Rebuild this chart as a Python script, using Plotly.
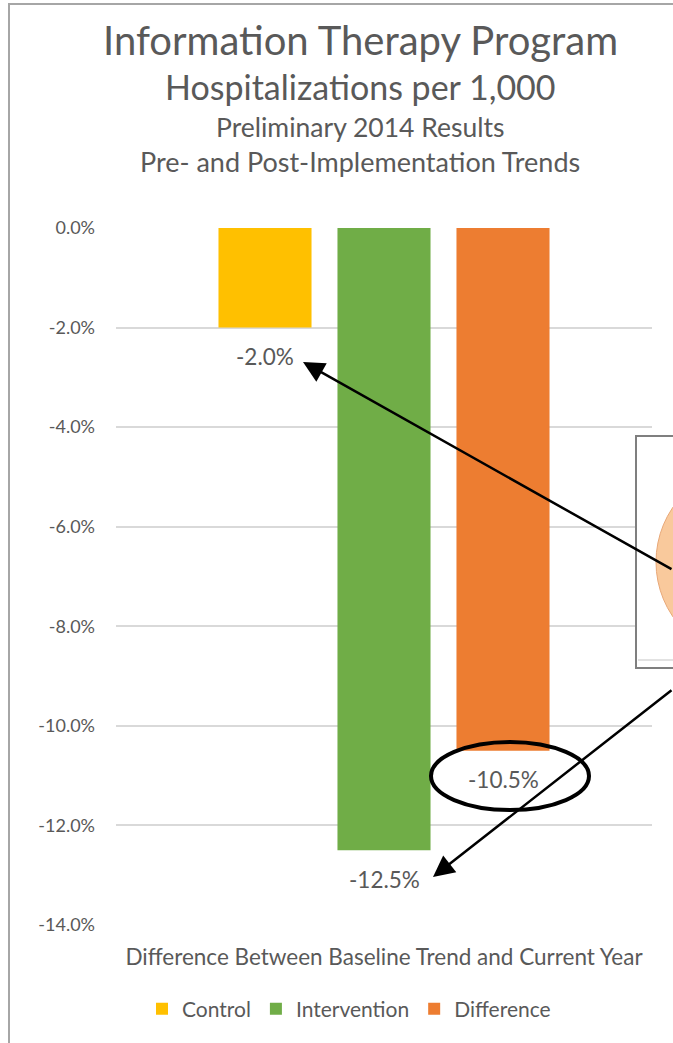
import plotly.graph_objects as go

# ---- data ----
category = ["Difference Between Baseline Trend and Current Year"]
series_names = ["Control", "Intervention", "Difference"]
series_values = [-0.020, -0.125, -0.105]
series_colors = ["#FFC000", "#70AD47", "#ED7D31"]
y_tick_values = [0.0, -0.02, -0.04, -0.06, -0.08, -0.10, -0.12, -0.14]
y_tick_labels = ["0.0%", "-2.0%", "-4.0%", "-6.0%", "-8.0%",
                 "-10.0%", "-12.0%", "-14.0%"]

title_lines = [
    ("Information Therapy Program", 40),
    ("Hospitalizations per 1,000", 34),
    ("Preliminary 2014 Results", 26.5),
    ("Pre- and Post-Implementation Trends", 27),
]

# ---- canvas geometry (pixels) ----
W, H = 673, 1043
L, R, T, B = 116, 652, 228, 925
FONT = "Lato"
GREY_TXT = "#595959"


def px(x):
    return (x - L) / (R - L)


def py(y):
    return (B - y) / (B - T)


fig = go.Figure()
for name, val, col in zip(series_names, series_values, series_colors):
    fig.add_trace(go.Bar(
        x=category, y=[val], name=name, marker_color=col,
        marker_line_width=0,
    ))

# value labels under each bar end (hyphen minus, one decimal)
slot = 119
for i, val in enumerate(series_values):
    fig.add_annotation(
        x=category[0], y=val, xref="x", yref="y",
        xshift=(i - 1) * slot, yshift=-29,
        text=f"{val * 100:.1f}%", showarrow=False,
        font=dict(family=FONT, size=22.5, color=GREY_TXT),
    )

# titles
title_y = [40, 87, 127, 162]
for (txt, size), yy in zip(title_lines, title_y):
    fig.add_annotation(
        x=px(360), y=py(yy), xref="paper", yref="paper",
        text=txt, showarrow=False, xanchor="center", yanchor="middle",
        font=dict(family=FONT, size=size, color=GREY_TXT),
    )

shapes = []
# chart frame
shapes.append(dict(type="rect", xref="paper", yref="paper",
                   x0=px(9), x1=px(760), y0=py(4), y1=py(1200),
                   line=dict(color="#a6a6a6", width=2), layer="below"))
# inset box partly outside the view
shapes.append(dict(type="rect", xref="paper", yref="paper",
                   x0=px(636), x1=px(800), y0=py(668), y1=py(436),
                   fillcolor="white", line=dict(color="#7f7f7f", width=2),
                   layer="above"))
shapes.append(dict(type="line", xref="paper", yref="paper",
                   x0=px(638), x1=px(800), y0=py(660), y1=py(660),
                   line=dict(color="#d9d9d9", width=1.5), layer="above"))
shapes.append(dict(type="circle", xref="paper", yref="paper",
                   x0=px(656), x1=px(850), y0=py(659), y1=py(465),
                   fillcolor="#F9C99C", line=dict(color="#e8a878", width=1),
                   layer="above"))
# highlight ring around the difference label
shapes.append(dict(type="circle", xref="paper", yref="paper",
                   x0=px(431), x1=px(589), y0=py(810), y1=py(742),
                   line=dict(color="black", width=4), layer="above"))

# pointer arrows
for hx, hy, tx, ty in [(303, 362, 700, 570), (433, 877, 700, 689)]:
    fig.add_annotation(
        x=px(hx), y=py(hy), xref="paper", yref="paper",
        ax=tx - hx, ay=ty - hy, text="", showarrow=True,
        arrowhead=2, arrowsize=1.7, arrowwidth=2.5, arrowcolor="black",
        standoff=0,
    )

fig.update_layout(
    width=W, height=H,
    margin=dict(l=L, r=W - R, t=T, b=H - B),
    paper_bgcolor="white", plot_bgcolor="white",
    barmode="group", bargap=0.334, bargroupgap=0.218,
    shapes=shapes,
    showlegend=True,
    legend=dict(orientation="h", x=px(349), xanchor="center",
                y=py(1009), yanchor="middle",
                font=dict(family=FONT, size=21, color=GREY_TXT),
                itemwidth=30, traceorder="normal"),
    font=dict(family=FONT, color=GREY_TXT),
)
fig.update_yaxes(
    range=[-0.14, 0], tickvals=y_tick_values, ticktext=y_tick_labels,
    showgrid=True, gridcolor="#d9d9d9", gridwidth=1.5,
    zeroline=False, showline=False,
    tickfont=dict(family=FONT, size=18, color=GREY_TXT),
    ticklabelstandoff=20,
)
fig.update_xaxes(
    showgrid=False, showline=False, zeroline=False,
    tickfont=dict(family=FONT, size=22.5, color=GREY_TXT),
    ticklabelstandoff=16,
)

fig.write_html("out.html")
